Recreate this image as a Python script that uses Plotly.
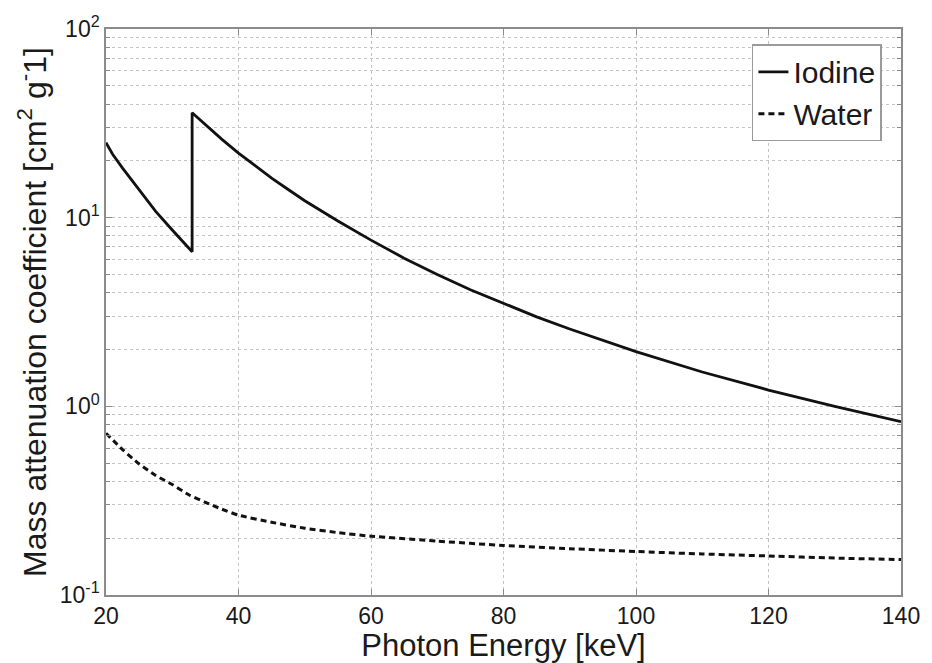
import plotly.graph_objects as go

# Photon energy [keV]
iodine_energy = [20, 21, 22.5, 24, 25, 27.5, 30, 31.5, 33.0, 33.0, 34, 35, 37.5, 40, 42.5, 45, 47.5,
                 50, 55, 60, 65, 70, 75, 80, 85, 90, 95, 100, 110, 120, 130, 140]
iodine_mu = [25.0, 21.7, 18.3, 15.6, 13.9, 10.8, 8.6, 7.5, 6.6, 36.0, 33.4, 31.0, 26.0, 22.0,
             18.9, 16.2, 14.1, 12.3, 9.6, 7.6, 6.1, 5.0, 4.15, 3.5, 2.98, 2.57, 2.23, 1.95,
             1.52, 1.22, 1.0, 0.83]

water_energy = [20, 22.5, 25, 27.5, 30, 32.5, 35, 37.5, 40, 45, 50, 55, 60, 70, 80, 90, 100,
                110, 120, 130, 140]
water_mu = [0.72, 0.59, 0.495, 0.43, 0.385, 0.34, 0.31, 0.285, 0.265, 0.243, 0.226, 0.214,
            0.205, 0.193, 0.183, 0.176, 0.170, 0.165, 0.161, 0.157, 0.154]

x_ticks = [20, 40, 60, 80, 100, 120, 140]
y_tickvals = [0.1, 1, 10, 100]
y_ticktext = ["10<sup>-1</sup>", "10<sup>0</sup>", "10<sup>1</sup>", "10<sup>2</sup>"]

FONT = "Liberation Sans, Arial, Helvetica, sans-serif"
TXT = "#1a1a1a"
GRID = "#c4c4c4"
AXIS = "#8c8c8c"

fig = go.Figure()
fig.add_trace(go.Scatter(x=iodine_energy, y=iodine_mu, mode="lines", name="Iodine",
                         line=dict(color="#111111", width=2.8)))
fig.add_trace(go.Scatter(x=water_energy, y=water_mu, mode="lines", name="Water",
                         line=dict(color="#111111", width=3, dash="6px,4px",
                                   shape="spline", smoothing=0.6)))

fig.update_layout(
    width=932, height=663,
    margin=dict(l=106, r=25, t=29, b=67),
    paper_bgcolor="white", plot_bgcolor="white",
    font=dict(family=FONT, color=TXT, size=23),
    showlegend=True,
    legend=dict(x=0.976, y=0.973, xanchor="right", yanchor="top",
                bgcolor="white", bordercolor="#9a9a9a", borderwidth=1.5,
                font=dict(size=30, family=FONT, color=TXT),
                tracegroupgap=0, itemwidth=30),
)

fig.update_xaxes(
    range=[20, 140], tickvals=x_ticks, ticktext=[str(v) for v in x_ticks],
    showgrid=True, gridcolor=GRID, griddash="dot", gridwidth=1,
    showline=True, linecolor=AXIS, linewidth=1.5, mirror="ticks",
    ticks="inside", ticklen=6, tickcolor=AXIS,
    tickfont=dict(size=23, family=FONT, color=TXT),
    title=dict(text="Photon Energy [keV]", font=dict(size=31, family=FONT, color=TXT), standoff=0),
    zeroline=False,
)

fig.update_yaxes(
    type="log", range=[-1, 2], tickvals=y_tickvals, ticktext=y_ticktext,
    showgrid=True, gridcolor=GRID, griddash="dot", gridwidth=1,
    showline=True, linecolor=AXIS, linewidth=1.5, mirror="ticks",
    ticks="inside", ticklen=6, tickcolor=AXIS,
    tickfont=dict(size=23, family=FONT, color=TXT),
    minor=dict(dtick="D1", showgrid=True, gridcolor=GRID, griddash="dot", gridwidth=1,
               ticks="inside", ticklen=4, tickcolor=AXIS),
    title=dict(text="Mass attenuation coefficient [cm<sup>2</sup> g<sup>-</sup>1]",
               font=dict(size=32, family=FONT, color=TXT), standoff=4),
    zeroline=False,
)

fig.write_html("out.html")
